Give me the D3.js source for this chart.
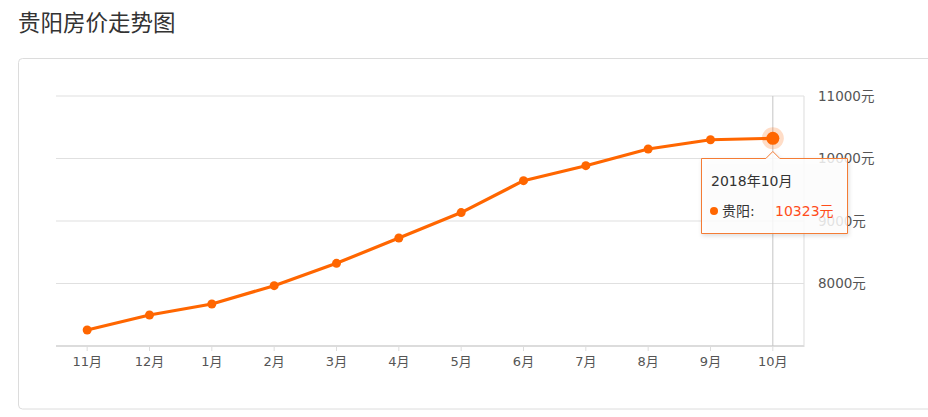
<!DOCTYPE html>
<html><head><meta charset="utf-8">
<script src="https://cdn.jsdelivr.net/npm/d3@7"></script>
<style>
html,body{margin:0;padding:0;background:#fff;}
body{width:928px;height:417px;overflow:hidden;font-family:"Noto Sans CJK SC","Noto Sans",sans-serif;}
</style></head>
<body>
<svg id="chart" width="928" height="417"></svg>
<script>
const title = "贵阳房价走势图";
const seriesName = "贵阳";
const months = ["11月","12月","1月","2月","3月","4月","5月","6月","7月","8月","9月","10月"];
const prices = [7256, 7496, 7672, 7965, 8323, 8728, 9135, 9645, 9885, 10152, 10300, 10323];
const yTicks = [8000, 9000, 10000, 11000];
const tooltipTitle = "2018年10月";
const unit = "元";
const activeIndex = 11;

const FONT = "'DejaVu Sans','Noto Sans CJK SC',sans-serif";
const svg = d3.select("#chart");
const orange = "#ff6600";

svg.append("text").attr("x",18).attr("y",31).attr("font-size",22.5).attr("fill","#333")
  .attr("font-family","'Noto Sans CJK SC',sans-serif").text(title);

// card
svg.append("rect").attr("x",18.5).attr("y",58.5).attr("width",960).attr("height",350.5)
  .attr("rx",4).attr("fill","#fff").attr("stroke","#dcdcdc");

const x = d3.scaleBand().domain(months).range([56,804]);
const y = d3.scaleLinear().domain([7000,11000]).range([346,96]);

// grid
svg.append("g").selectAll("line").data(yTicks).join("line")
  .attr("x1",56).attr("x2",804).attr("y1",d=>y(d)).attr("y2",d=>y(d))
  .attr("stroke","#e0e0e0").attr("stroke-width",1.2);

// right border
svg.append("line").attr("x1",804).attr("x2",804).attr("y1",96).attr("y2",347)
  .attr("stroke","#e2e2e2").attr("stroke-width",1.2);

// x axis
const xAxis = d3.axisBottom(x).tickSize(5).tickPadding(6);
const gx = svg.append("g").attr("transform","translate(0,346)").call(xAxis);
gx.select(".domain").attr("stroke","#dcdcdc").attr("stroke-width",2).attr("d","M56,0H804");
gx.selectAll(".tick line").attr("stroke","#dcdcdc");
gx.selectAll(".tick text").attr("font-size",13).attr("fill","#555").attr("font-family",FONT);

// y axis labels (right)
const yAxis = d3.axisRight(y).tickValues(yTicks).tickSize(0).tickPadding(14).tickFormat(d=>d+unit);
const gy = svg.append("g").attr("transform","translate(804,0)").call(yAxis);
gy.select(".domain").remove();
gy.selectAll(".tick text").attr("font-size",13.5).attr("fill","#555").attr("font-family",FONT);

// hover line
const ax = x(months[activeIndex]) + x.bandwidth()/2;
svg.append("line").attr("x1",ax).attr("x2",ax).attr("y1",96).attr("y2",346)
  .attr("stroke","#c4c4c4").attr("stroke-width",1);

// line
const cx = (d,i)=>x(months[i])+x.bandwidth()/2;
const line = d3.line().x((d,i)=>cx(d,i)).y(d=>y(d));
svg.append("path").datum(prices).attr("d",line).attr("fill","none")
  .attr("stroke",orange).attr("stroke-width",3.2).attr("stroke-linejoin","round");

svg.append("g").selectAll("circle").data(prices).join("circle")
  .attr("cx",(d,i)=>cx(d,i)).attr("cy",d=>y(d)).attr("r",(d,i)=>i===activeIndex?0:4.5).attr("fill",orange);

// active point
const ay = y(prices[activeIndex]);
svg.append("circle").attr("cx",ax).attr("cy",ay).attr("r",11).attr("fill","rgba(255,102,0,0.22)");
svg.append("circle").attr("cx",ax).attr("cy",ay).attr("r",6.5).attr("fill",orange);

// tooltip
const defs = svg.append("defs");
const f = defs.append("filter").attr("id","sh").attr("x","-20%").attr("y","-20%").attr("width","140%").attr("height","150%");
f.append("feDropShadow").attr("dx",1).attr("dy",2).attr("stdDeviation",2).attr("flood-color","#000").attr("flood-opacity",0.15);
const tx0 = 701.5, ty0 = 158.5, tw = 146, th = 75;
const tip = svg.append("g");
tip.append("path")
  .attr("d",`M${tx0},${ty0} H${ax-7} L${ax},${ty0-7} L${ax+7},${ty0} H${tx0+tw} V${ty0+th} H${tx0} Z`)
  .attr("fill","rgba(255,255,255,0.82)").attr("stroke","#f47b34").attr("stroke-width",1).attr("filter","url(#sh)");
tip.append("text").attr("x",711).attr("y",185.5).attr("font-size",14).attr("fill","#333").attr("font-family",FONT).text(tooltipTitle);
tip.append("circle").attr("cx",714).attr("cy",211).attr("r",4).attr("fill",orange);
tip.append("text").attr("x",722).attr("y",216).attr("font-size",14).attr("fill","#333").attr("font-family",FONT).text(seriesName+":");
tip.append("text").attr("x",775).attr("y",216).attr("font-size",14).attr("fill","#ff4d1a").attr("font-family",FONT).text(prices[activeIndex]+unit);
</script>
</body></html>
